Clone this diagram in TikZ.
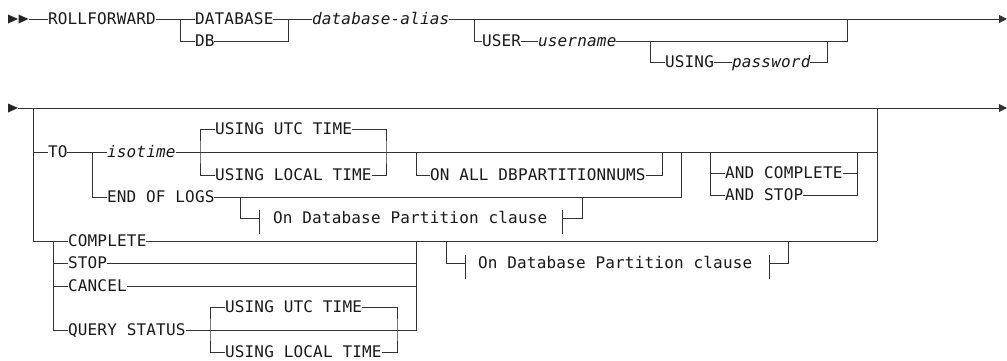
\documentclass[tikz,border=0pt]{standalone}
\usepackage{fontspec}
\newfontfamily\rrfont[LetterSpace=1.2,ItalicFont={DejaVu Sans Mono Oblique},ItalicFeatures={LetterSpace=1.2}]{DejaVu Sans Mono}
\usetikzlibrary{arrows.meta}
\begin{document}
\begin{tikzpicture}[x=1pt,y=-1pt,
  rr/.style={line width=0.9pt, draw=black!80},
  endarrow/.style={rr,-{Triangle[length=8pt,width=8pt]}},
  kw/.style={inner sep=0pt, outer sep=0pt, anchor=west, text height=10.5pt, text depth=0pt,
             font=\rrfont\fontsize{16}{17}\selectfont, text=black!90},
  var/.style={kw, font=\rrfont\itshape\fontsize{16}{17}\selectfont},
  tick/.style={rr}]
\useasboundingbox (0,0) rectangle (1007,360);
% ---------------- row 1 ----------------
\fill[black!85] (8,14.5) -- (18,19) -- (8,23.5) -- cycle;
\fill[black!85] (18.5,14.5) -- (28.5,19) -- (18.5,23.5) -- cycle;
\coordinate (s1) at (28.5,19);
\node[kw] (rf) at (48,19) {ROLLFORWARD};
\draw[rr] (s1) -- (rf.west);
\coordinate (j1) at (180,19);
\coordinate (j2) at (288,19);
\node[kw] (dbl) at (195,19) {DATABASE};
\node[kw] (db) at (195,41) {DB};
\draw[rr] (rf.east) -- (dbl.west);
\draw[rr] (j1) |- (db.west);
\draw[rr] (dbl.east) -- (j2);
\draw[rr] (db.east) -| (j2);
\node[var] (alias) at (312,19) {database-alias};
\draw[rr] (j2) -- (alias.west);
\coordinate (j3) at (474,19);
\coordinate (j4) at (847,19);
\coordinate (e1) at (1007,19);
\draw[endarrow] (alias.east) -- (e1);
\node[kw] (user) at (482,41) {USER};
\draw[rr] (j3) |- (user.west);
\node[var] (uname) at (538,41) {username};
\draw[rr] (user.east) -- (uname.west);
\coordinate (j5) at (650,41);
\coordinate (j6) at (827,41);
\draw[rr] (uname.east) -| (j4);
\node[kw] (using) at (665,62) {USING};
\draw[rr] (j5) |- (using.west);
\node[var] (pw) at (732,62) {password};
\draw[rr] (using.east) -- (pw.west);
\draw[rr] (pw.east) -| (j6);
% ---------------- row 2 ----------------
\fill[black!85] (8,103.5) -- (18,108) -- (8,112.5) -- cycle;
\coordinate (s2) at (18,108);
\coordinate (v1) at (33,108);
\coordinate (v1t) at (33,152);
\coordinate (v1b) at (33,241);
\coordinate (v2) at (877,108);
\coordinate (v2t) at (877,152);
\coordinate (v2b) at (877,241);
\coordinate (e2) at (1007,108);
\draw[endarrow] (s2) -- (e2);
\draw[rr] (v2) -- (v2b);
% TO branch
\node[kw] (to) at (48,152) {TO};
\draw[rr] (v1t) -- (to.west);
\coordinate (j7) at (92,152);
\node[var] (iso) at (107,152) {isotime};
\draw[rr] (to.east) -- (iso.west);
\draw[rr] (iso.east) -- (v2t);
\node[kw] (eol) at (107,197) {END OF LOGS};
\draw[rr] (j7) |- (eol.west);
\coordinate (j8) at (200,152);
\coordinate (j9) at (386,152);
\node[kw] (utc1) at (215,129) {USING UTC TIME};
\node[kw] (loc1) at (215,175) {USING LOCAL TIME};
\draw[rr] (utc1.west) -| (j8) |- (loc1.west);
\draw[rr] (utc1.east) -| (j9) |- (loc1.east);
\coordinate (j10) at (416,152);
\coordinate (j11) at (662,152);
\node[kw] (onall) at (430,175) {ON ALL DBPARTITIONNUMS};
\draw[rr] (j10) |- (onall.west);
\draw[rr] (onall.east) -| (j11);
\coordinate (j12) at (681,152);
\coordinate (j13) at (710,152);
\coordinate (j14) at (857,152);
\node[kw] (andc) at (725,173) {AND COMPLETE};
\node[kw] (ands) at (725,195) {AND STOP};
\draw[rr] (j13) |- (ands.west);
\draw[rr] (andc.west) -| (j13);
\draw[rr] (andc.east) -| (j14);
\draw[rr] (ands.east) -| (j14);
% END OF LOGS
\draw[rr] (eol.east) -| (j12);
\coordinate (j15) at (240,197);
\coordinate (j16) at (582,197);
\coordinate (t1) at (259,218);
\coordinate (t2) at (562,218);
\node[kw] (frag1) at (273,218) {On Database Partition clause};
\draw[rr] (j15) |- (t1);
\draw[tick] ([yshift=8pt]t1) -- ([yshift=-16pt]t1);
\draw[rr] (t2) -| (j16);
\draw[tick] ([yshift=8pt]t2) -- ([yshift=-16pt]t2);
% lower group
\coordinate (j17) at (53,241);
\node[kw] (comp) at (68,241) {COMPLETE};
\node[kw] (stop) at (68,263) {STOP};
\node[kw] (canc) at (68,286) {CANCEL};
\node[kw] (qs) at (68,330) {QUERY STATUS};
\draw[rr] (v1) -- (v1b) -- (comp.west);
\draw[rr] (j17) |- (qs.west);
\draw[rr] (j17) |- (stop.west);
\draw[rr] (j17) |- (canc.west);
\draw[rr] (comp.east) -- (v2b);
\coordinate (j18) at (416,241);
\draw[rr] (stop.east) -| (j18);
\draw[rr] (canc.east) -| (j18);
\draw[rr] (qs.east) -| (j18);
\coordinate (j19) at (210,330);
\coordinate (j20) at (397,330);
\node[kw] (utc2) at (225,307) {USING UTC TIME};
\node[kw] (loc2) at (225,352) {USING LOCAL TIME};
\draw[rr] (utc2.west) -| (j19) |- (loc2.west);
\draw[rr] (utc2.east) -| (j20) |- (loc2.east);
% second fragment
\coordinate (j21) at (446,241);
\coordinate (j22) at (788,241);
\coordinate (t3) at (465,263);
\coordinate (t4) at (769,263);
\node[kw] (frag2) at (478,263) {On Database Partition clause};
\draw[rr] (j21) |- (t3);
\draw[tick] ([yshift=8pt]t3) -- ([yshift=-16pt]t3);
\draw[rr] (t4) -| (j22);
\draw[tick] ([yshift=8pt]t4) -- ([yshift=-16pt]t4);
\end{tikzpicture}
\end{document}
